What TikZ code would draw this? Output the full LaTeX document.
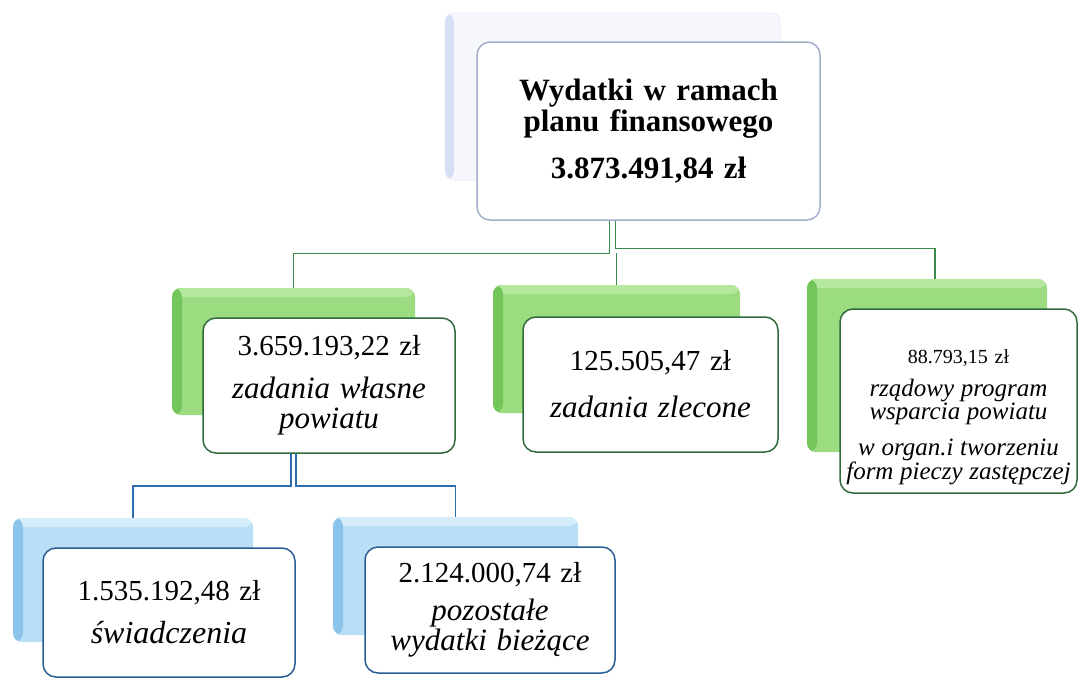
\documentclass[tikz,border=0pt]{standalone}
\usepackage{fontspec}
\setmainfont{Liberation Serif}
\usepackage{tikz}
\setlength{\lineskiplimit}{-40pt}

\definecolor{gline}{HTML}{3A8A4A}
\definecolor{gedge}{HTML}{2F6B3B}
\definecolor{gfill}{HTML}{9BDC80}
\definecolor{gdark}{HTML}{74C65A}
\definecolor{glite}{HTML}{B4E89D}
\definecolor{bline}{HTML}{2E6DB4}
\definecolor{bedge}{HTML}{2B5E96}
\definecolor{bfill}{HTML}{B9DFF6}
\definecolor{bdark}{HTML}{8CC3EA}
\definecolor{blite}{HTML}{D6EEFB}
\definecolor{tedge}{HTML}{A3AECB}
\definecolor{tfill}{HTML}{F7F8FD}
\definecolor{tdark}{HTML}{D8DEF5}

\begin{document}
\begin{tikzpicture}[x=1pt, y=-1pt,
	back/.style={rounded corners=9pt, inner sep=0pt},
	tback/.style={back, fill=tfill, draw=tdark!60, line width=0.8pt, path picture={\fill[tdark] (path picture bounding box.north west) rectangle ([xshift=9pt]path picture bounding box.south west);}},
	gback/.style={back, fill=gfill, path picture={\fill[glite] (path picture bounding box.north west) rectangle ([yshift=-9pt]path picture bounding box.north east); \fill[gdark] (path picture bounding box.north west) rectangle ([xshift=10pt]path picture bounding box.south west);}},
	bback/.style={back, fill=bfill, path picture={\fill[blite] (path picture bounding box.north west) rectangle ([yshift=-9pt]path picture bounding box.north east); \fill[bdark] (path picture bounding box.north west) rectangle ([xshift=10pt]path picture bounding box.south west);}},
	front/.style={fill=white, line width=1.5pt, rounded corners=13pt, inner sep=0pt, align=center, text width=#1},
	tfront/.style={front=#1, draw=tedge, font=\fontsize{31}{31}\selectfont\bfseries},
	gfront/.style={front=#1, draw=gedge, font=\fontsize{29}{30}\selectfont},
	bfront/.style={front=#1, draw=bedge, font=\fontsize{29}{30}\selectfont},
	gconn/.style={draw=gline, line width=1.6pt},
	bconn/.style={draw=bline, line width=1.6pt}]

	\useasboundingbox (0,0) rectangle (1078,678);

	% back boxes
	\node (wydS) at (612.5,96.5) [tback, minimum width=335pt, minimum height=167pt] {};
	\node (wlS)  at (293.5,351.5) [gback, minimum width=243pt, minimum height=127pt] {};
	\node (zlS)  at (616.5,349) [gback, minimum width=247pt, minimum height=128pt] {};
	\node (rzS)  at (927,365.5) [gback, minimum width=240pt, minimum height=173pt] {};
	\node (swS)  at (133,580) [bback, minimum width=240pt, minimum height=124pt] {};
	\node (poS)  at (455.5,576) [bback, minimum width=245pt, minimum height=118pt] {};

	% connectors
	\draw [gconn] ([xshift=-3pt]wydS.south) -- ++(0,73) -| (wlS.north);
	\draw [gconn] ([xshift=3pt]wydS.south) -- ++(0,68) -| ([xshift=8pt]rzS.north);
	\draw [gconn] (zlS.north) -- ++(0,-32);
	\draw [bconn] ([xshift=-2.5pt]wlS.south) -- ++(0,71) -| (swS.north);
	\draw [bconn] ([xshift=2.5pt]wlS.south) -- ++(0,71) -| (poS.north);

	% front boxes
	\node (wyd) at (648.5,131) [tfront=320pt, minimum width=343pt, minimum height=178pt] {Wydatki w ramach\\ planu finansowego\\[16pt] 3.873.491,84 zł};
	\node (wl) at (329,385.5) [gfront=240pt, minimum width=252pt, minimum height=135pt] {3.659.193,22 zł\\[13pt] \fontsize{31}{30}\selectfont\itshape zadania własne\\ powiatu};
	\node (zl) at (650.5,384.5) [gfront=240pt, minimum width=255pt, minimum height=135pt] {125.505,47 zł\\[17pt] \fontsize{31}{30}\selectfont\itshape zadania zlecone};
	\node (rz) at (958.5,401) [gfront=234pt, minimum width=237pt, minimum height=184pt, font=\fontsize{20}{21}\selectfont] {\rule{0pt}{46pt}88.793,15 zł\\[12pt] \fontsize{25}{21}\selectfont\itshape rządowy program\\ wsparcia powiatu\\[13pt] w organ.i tworzeniu\\ form pieczy zastępczej};
	\node (sw) at (169,612.5) [bfront=240pt, minimum width=252pt, minimum height=129pt] {1.535.192,48 zł\\[13pt] \fontsize{32}{30}\selectfont\itshape świadczenia};
	\node (po) at (490,610) [bfront=240pt, minimum width=250pt, minimum height=126pt] {2.124.000,74 zł\\[8pt] \fontsize{31}{30}\selectfont\itshape pozostałe\\ wydatki bieżące};
\end{tikzpicture}
\end{document}
